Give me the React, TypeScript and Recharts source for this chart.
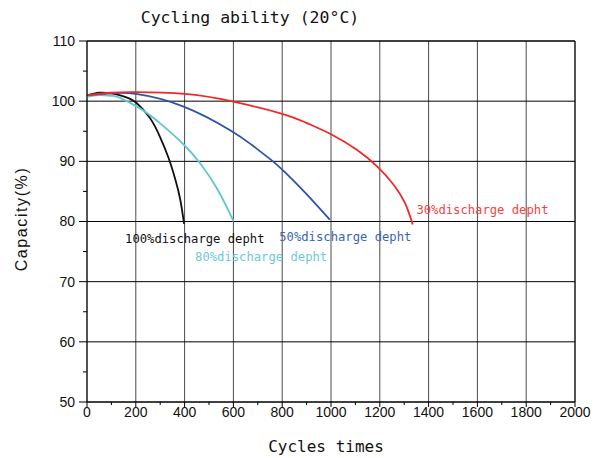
import React from "react";
import {
  LineChart,
  Line,
  XAxis,
  YAxis,
  CartesianGrid,
  ReferenceDot,
} from "recharts";

// cycles / capacity (%)
const cycles100 = [0, 50, 100, 133, 170, 203, 258, 300, 334, 362, 382, 398];
const cap100 = [100.9, 101.4, 101.3, 101.0, 100.5, 99.7, 97.2, 94.0, 90.6, 87.0, 83.7, 79.6];

const cycles80 = [0, 50, 100, 133, 217, 300, 396, 465, 534, 601];
const cap80 = [100.7, 101.0, 100.9, 100.6, 98.8, 96.3, 92.8, 89.6, 85.4, 80.0];

const cycles50 = [0, 100, 200, 396, 590, 673, 756, 811, 894, 995];
const cap50 = [101.0, 101.3, 101.2, 99.1, 95.1, 92.8, 90.2, 88.2, 84.8, 80.3];

const cycles30 = [0, 100, 200, 400, 590, 800, 899, 1000, 1110, 1193, 1255, 1303, 1335];
const cap30 = [101.0, 101.4, 101.5, 101.2, 100.0, 97.9, 96.4, 94.5, 91.8, 89.0, 86.2, 83.1, 79.5];

const seriesNames = ["100%discharge depht", "80%discharge depht", "50%discharge depht", "30%discharge depht"];
const seriesColors = ["#111111", "#62c6d2", "#2c55a8", "#f02828"];
const labelColors = ["#111111", "#6ccad6", "#3b64b5", "#f04545"];
// where each series name is written, in data units
const labelCycles = [156, 443, 788, 1350];
const labelCaps = [77.2, 74.2, 77.4, 81.9];

const xTicks = Array.from({ length: 21 }, (_, i) => i * 100);
const yTicks = Array.from({ length: 13 }, (_, i) => 50 + i * 5);
const xMajor = xTicks.filter((v) => v % 200 === 0);
const yMajor = yTicks.filter((v) => v % 10 === 0);

const toRows = (xs: number[], ys: number[]) => xs.map((c, i) => ({ cycles: c, cap: ys[i] }));
const series = [
  toRows(cycles100, cap100),
  toRows(cycles80, cap80),
  toRows(cycles50, cap50),
  toRows(cycles30, cap30),
];

const tickFont = { fontFamily: "'Liberation Sans', Arial, sans-serif", fontSize: 14, fill: "#111" };
const monoFont = "'DejaVu Sans Mono', monospace";

const LeftTick = (props: any) => {
  const { x, y, payload } = props;
  const major = payload.value % 10 === 0;
  return (
    <g>
      <line x1={x - (major ? 8 : 4)} x2={x} y1={y} y2={y} stroke="#000" />
      {major && (
        <text x={x - 12} y={y} dy="0.35em" textAnchor="end" {...tickFont}>
          {payload.value}
        </text>
      )}
    </g>
  );
};

const BottomTick = (props: any) => {
  const { x, y, payload } = props;
  const major = payload.value % 200 === 0;
  return (
    <g>
      <line x1={x} x2={x} y1={y} y2={y + (major ? 5 : 3)} stroke="#000" />
      {major && (
        <text x={x} y={y + 15} textAnchor="middle" {...tickFont}>
          {payload.value}
        </text>
      )}
    </g>
  );
};

export default function App() {
  return (
    <div style={{ position: "absolute", left: 0, top: 0, width: 593, height: 458, background: "#fff" }}>
      <LineChart
        width={593}
        height={458}
        margin={{ top: 41, right: 18, bottom: 26, left: 27 }}
      >
        <CartesianGrid horizontal={false} verticalValues={xMajor} stroke="#4a4a4a" />
        <CartesianGrid vertical={false} horizontalValues={yMajor} stroke="#000" />
        <XAxis
          dataKey="cycles"
          type="number"
          domain={[0, 2000]}
          ticks={xTicks}
          interval={0}
          tickSize={0}
          tickMargin={0}
          tickLine={false}
          tick={<BottomTick />}
          axisLine={{ stroke: "#000" }}
          height={30}
          allowDuplicatedCategory={false}
        />
        <XAxis
          xAxisId="top"
          orientation="top"
          type="number"
          domain={[0, 2000]}
          ticks={xTicks}
          interval={0}
          mirror
          tickSize={4}
          tick={false}
          tickLine={{ stroke: "#000" }}
          axisLine={{ stroke: "#000" }}
          height={1}
        />
        <YAxis
          type="number"
          domain={[50, 110]}
          ticks={yTicks}
          interval={0}
          tickSize={0}
          tickMargin={0}
          tickLine={false}
          tick={<LeftTick />}
          axisLine={{ stroke: "#000" }}
          width={60}
        />
        <YAxis
          yAxisId="right"
          orientation="right"
          type="number"
          domain={[50, 110]}
          ticks={yTicks}
          interval={0}
          mirror
          tickSize={4}
          tick={false}
          tickLine={{ stroke: "#000" }}
          axisLine={{ stroke: "#000" }}
          width={1}
        />
        {series.map((rows, i) => (
          <Line
            key={seriesNames[i]}
            data={rows}
            dataKey="cap"
            type="natural"
            stroke={seriesColors[i]}
            strokeWidth={1.8}
            dot={false}
            isAnimationActive={false}
          />
        ))}
        {seriesNames.map((name, i) => (
          <ReferenceDot
            key={"lbl-" + name}
            x={labelCycles[i]}
            y={labelCaps[i]}
            r={1}
            shape={(p: any) => (
              <text
                x={p.cx}
                y={p.cy}
                dy="0.35em"
                fontFamily={monoFont}
                fontSize={12.2}
                fill={labelColors[i]}
              >
                {name}
              </text>
            )}
          />
        ))}
      </LineChart>
      <div
        style={{
          position: "absolute",
          left: 0,
          width: 500,
          top: 8,
          textAlign: "center",
          fontFamily: monoFont,
          fontSize: 16.5,
          lineHeight: "20px",
          color: "#111",
        }}
      >
        Cycling ability (20°C)
      </div>
      <div
        style={{
          position: "absolute",
          left: 87,
          width: 478,
          top: 437,
          textAlign: "center",
          fontFamily: monoFont,
          fontSize: 16,
          lineHeight: "20px",
          color: "#111",
        }}
      >
        Cycles times
      </div>
      <div
        style={{
          position: "absolute",
          left: 22,
          top: 219,
          transform: "translate(-50%, -50%) rotate(-90deg)",
          whiteSpace: "nowrap",
          fontFamily: "'Liberation Sans', Arial, sans-serif",
          fontSize: 16,
          letterSpacing: 1.6,
          lineHeight: "20px",
          color: "#111",
        }}
      >
        Capacity(%)
      </div>
    </div>
  );
}
